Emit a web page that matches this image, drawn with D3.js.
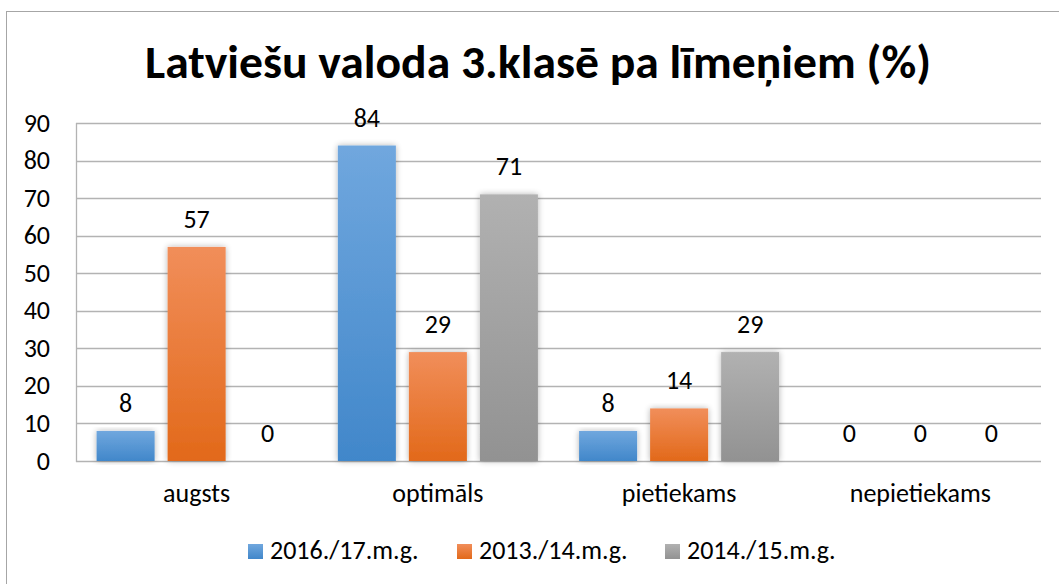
<!DOCTYPE html>
<html lang="lv">
<head>
  <meta charset="UTF-8" />
  <title>Latviešu valoda 3.klasē</title>
  <script src="https://d3js.org/d3.v7.min.js"></script>
  <style>
    body { margin: 0; overflow: hidden; background: #fff; }
    text { font-family: Carlito, Calibri, Lato, "Open Sans", sans-serif; fill: #000; }
  </style>
</head>
<body>
<svg width="1059" height="584"></svg>
<script>
const categories = ["augsts", "optimāls", "pietiekams", "nepietiekams"];
const seriesNames = ["2016./17.m.g.", "2013./14.m.g.", "2014./15.m.g."];
const s2016 = [8, 84, 8, 0];
const s2013 = [57, 29, 14, 0];
const s2014 = [0, 71, 29, 0];
const yTicks = [0, 10, 20, 30, 40, 50, 60, 70, 80, 90];
const colors = [
  ["#70a7de", "#4187ca"],
  ["#f18e5a", "#e2691a"],
  ["#b1b1b1", "#929292"]
];

const values = [s2016, s2013, s2014];
const svg = d3.select("svg");
const plot = {left: 76, right: 1041, top: 123, bottom: 461};
const fs = 26;

// frame
svg.append("rect")
  .attr("x", 6.5).attr("y", 11.5)
  .attr("width", 1080).attr("height", 620)
  .attr("fill", "#fff").attr("stroke", "#a6a6a6");

const defs = svg.append("defs");
colors.forEach((c, i) => {
  const g = defs.append("linearGradient").attr("id", "g" + i)
    .attr("x1", 0).attr("y1", 0).attr("x2", 0).attr("y2", 1);
  g.append("stop").attr("offset", "0%").attr("stop-color", c[0]);
  g.append("stop").attr("offset", "100%").attr("stop-color", c[1]);
});
const f = defs.append("filter").attr("id", "shadow")
  .attr("x", "-30%").attr("y", "-10%").attr("width", "160%").attr("height", "120%");
f.append("feGaussianBlur").attr("in", "SourceAlpha").attr("stdDeviation", 3).attr("result", "b");
f.append("feComponentTransfer").attr("in", "b").attr("result", "b2")
  .append("feFuncA").attr("type", "linear").attr("slope", 0.3);
const fm = f.append("feMerge");
fm.append("feMergeNode").attr("in", "b2");
fm.append("feMergeNode").attr("in", "SourceGraphic");

svg.append("text")
  .attr("x", 145).attr("y", 78)
  .attr("font-size", 46).attr("font-weight", "bold")
  .attr("textLength", 786).attr("lengthAdjust", "spacingAndGlyphs")
  .text("Latviešu valoda 3.klasē pa līmeņiem (%)");

const x = d3.scaleBand().domain(categories).range([plot.left, plot.right]);
const xs = d3.scaleBand().domain(d3.range(3)).range([0, x.bandwidth()])
  .paddingInner(0.183).paddingOuter(0.29);
const y = d3.scaleLinear().domain([0, 90]).range([plot.bottom, plot.top]);

// gridlines
svg.append("g").selectAll("line").data(yTicks).join("line")
  .attr("x1", plot.left).attr("x2", plot.right)
  .attr("y1", d => Math.round(y(d)) + 0.5).attr("y2", d => Math.round(y(d)) + 0.5)
  .attr("stroke", "#b3b3b3").attr("stroke-width", 1.3);
svg.append("line")
  .attr("x1", plot.left + 0.5).attr("x2", plot.left + 0.5)
  .attr("y1", plot.top).attr("y2", plot.bottom + 1)
  .attr("stroke", "#b3b3b3").attr("stroke-width", 1.3);

// y tick labels
svg.append("g").selectAll("text").data(yTicks).join("text")
  .attr("x", 50).attr("y", d => y(d) + 8.5)
  .attr("text-anchor", "end").attr("font-size", fs)
  .text(d => d);

// bars
const groups = svg.append("g").selectAll("g").data(categories).join("g")
  .attr("transform", c => `translate(${x(c)},0)`);
groups.each(function(c, ci) {
  const g = d3.select(this);
  values.forEach((vals, si) => {
    const v = vals[ci];
    if (v > 0) {
      g.append("rect")
        .attr("x", xs(si)).attr("width", xs.bandwidth())
        .attr("y", y(v)).attr("height", y(0) - y(v))
        .attr("fill", `url(#g${si})`)
        .attr("filter", "url(#shadow)");
    }
    g.append("text")
      .attr("x", xs(si) + xs.bandwidth() / 2)
      .attr("y", y(v) - 19)
      .attr("text-anchor", "middle").attr("font-size", fs)
      .text(v);
  });
});

// category labels
svg.append("g").selectAll("text").data(categories).join("text")
  .attr("x", c => x(c) + x.bandwidth() / 2).attr("y", 502)
  .attr("text-anchor", "middle").attr("font-size", fs)
  .text(c => c);

// legend
const legX = [248, 457, 665];
const leg = svg.append("g").selectAll("g").data(seriesNames).join("g")
  .attr("transform", (d, i) => `translate(${legX[i]},544)`);
leg.append("rect").attr("width", 15).attr("height", 15)
  .attr("fill", (d, i) => `url(#g${i})`);
leg.append("text").attr("x", 22).attr("y", 15).attr("font-size", fs)
  .text(d => d);
</script>
</body>
</html>
